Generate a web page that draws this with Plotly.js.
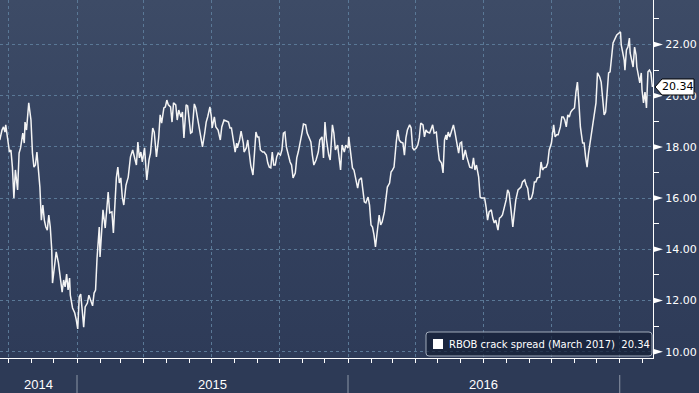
<!DOCTYPE html>
<html><head><meta charset="utf-8">
<script src="https://cdn.plot.ly/plotly-3.0.1.min.js"></script>
<style>
html,body{margin:0;padding:0;background:#2d3a56;}
#chart{width:699px;height:393px;background:linear-gradient(to bottom,#3d4b66 0px,#34425f 180px,#2e3b58 358px,#2d3a56 358px,#2d3a56 393px);}
</style></head><body><div id="chart"></div>
<script>
const dates = [
'2014-09-19','2014-09-22','2014-09-24','2014-09-26','2014-09-27','2014-09-29','2014-10-02','2014-10-04','2014-10-06','2014-10-08',
'2014-10-10','2014-10-13','2014-10-15','2014-10-17','2014-10-20','2014-10-22','2014-10-23','2014-10-25','2014-10-28','2014-10-31',
'2014-11-02','2014-11-04','2014-11-06','2014-11-08','2014-11-10','2014-11-12','2014-11-14','2014-11-16','2014-11-18','2014-11-20',
'2014-11-22','2014-11-24','2014-11-26','2014-11-28','2014-11-29','2014-12-01','2014-12-04','2014-12-07','2014-12-09','2014-12-12',
'2014-12-14','2014-12-16','2014-12-18','2014-12-20','2014-12-22','2014-12-23','2014-12-26','2014-12-29','2014-12-31','2015-01-02',
'2015-01-04','2015-01-06','2015-01-08','2015-01-10','2015-01-12','2015-01-15','2015-01-17','2015-01-19','2015-01-20','2015-01-22',
'2015-01-24','2015-01-26','2015-01-28','2015-01-31','2015-02-01','2015-02-04','2015-02-05','2015-02-08','2015-02-10','2015-02-12',
'2015-02-14','2015-02-17','2015-02-19','2015-02-23','2015-02-25','2015-02-27','2015-03-01','2015-03-03','2015-03-05','2015-03-08',
'2015-03-11','2015-03-14','2015-03-17','2015-03-19','2015-03-22','2015-03-24','2015-03-26','2015-03-28','2015-03-30','2015-04-02',
'2015-04-05','2015-04-08','2015-04-10','2015-04-13','2015-04-15','2015-04-18','2015-04-21','2015-04-23','2015-04-25','2015-04-28',
'2015-04-30','2015-05-02','2015-05-04','2015-05-07','2015-05-09','2015-05-11','2015-05-14','2015-05-16','2015-05-18','2015-05-21',
'2015-05-23','2015-05-25','2015-05-28','2015-05-30','2015-06-01','2015-06-03','2015-06-05','2015-06-08','2015-06-10','2015-06-13',
'2015-06-16','2015-06-19','2015-06-22','2015-06-24','2015-06-26','2015-06-29','2015-07-01','2015-07-02','2015-07-05','2015-07-07',
'2015-07-10','2015-07-13','2015-07-15','2015-07-18','2015-07-21','2015-07-24','2015-07-26','2015-07-28','2015-07-31','2015-08-02',
'2015-08-04','2015-08-05','2015-08-08','2015-08-10','2015-08-13','2015-08-14','2015-08-17','2015-08-19','2015-08-21','2015-08-23',
'2015-08-26','2015-08-28','2015-08-30','2015-09-01','2015-09-03','2015-09-05','2015-09-08','2015-09-10','2015-09-13','2015-09-15',
'2015-09-17','2015-09-19','2015-09-21','2015-09-23','2015-09-25','2015-09-27','2015-09-29','2015-10-02','2015-10-04','2015-10-06',
'2015-10-08','2015-10-10','2015-10-13','2015-10-15','2015-10-17','2015-10-19','2015-10-22','2015-10-24','2015-10-26','2015-10-28',
'2015-10-31','2015-11-02','2015-11-05','2015-11-07','2015-11-09','2015-11-12','2015-11-14','2015-11-16','2015-11-19','2015-11-22',
'2015-11-24','2015-11-27','2015-11-29','2015-12-01','2015-12-03','2015-12-06','2015-12-08','2015-12-11','2015-12-13','2015-12-15',
'2015-12-18','2015-12-20','2015-12-22','2015-12-24','2015-12-27','2015-12-29','2016-01-01','2016-01-02','2016-01-05','2016-01-07',
'2016-01-09','2016-01-11','2016-01-14','2016-01-16','2016-01-19','2016-01-21','2016-01-23','2016-01-25','2016-01-28','2016-01-30',
'2016-02-01','2016-02-03','2016-02-05','2016-02-07','2016-02-10','2016-02-12','2016-02-14','2016-02-16','2016-02-19','2016-02-21',
'2016-02-23','2016-02-26','2016-02-28','2016-03-01','2016-03-03','2016-03-06','2016-03-08','2016-03-10','2016-03-12','2016-03-15',
'2016-03-17','2016-03-19','2016-03-21','2016-03-24','2016-03-26','2016-03-28','2016-03-30','2016-04-02','2016-04-04','2016-04-06',
'2016-04-08','2016-04-11','2016-04-13','2016-04-15','2016-04-17','2016-04-20','2016-04-22','2016-04-24','2016-04-26','2016-04-29',
'2016-05-01','2016-05-03','2016-05-06','2016-05-08','2016-05-10','2016-05-12','2016-05-13','2016-05-15','2016-05-17','2016-05-20',
'2016-05-22','2016-05-24','2016-05-26','2016-05-29','2016-05-31','2016-06-02','2016-06-04','2016-06-07','2016-06-09','2016-06-11',
'2016-06-13','2016-06-16','2016-06-18','2016-06-20','2016-06-22','2016-06-25','2016-06-27','2016-06-29','2016-07-03','2016-07-05',
'2016-07-07','2016-07-09','2016-07-12','2016-07-14','2016-07-16','2016-07-18','2016-07-21','2016-07-23','2016-07-25','2016-07-27',
'2016-07-30','2016-08-01','2016-08-03','2016-08-05','2016-08-08','2016-08-10','2016-08-12','2016-08-14','2016-08-17','2016-08-19',
'2016-08-21','2016-08-23','2016-08-26','2016-08-28','2016-08-30','2016-09-01','2016-09-04','2016-09-06','2016-09-08','2016-09-10',
'2016-09-12','2016-09-15','2016-09-17','2016-09-19','2016-09-21','2016-09-24','2016-09-26','2016-09-28','2016-09-29','2016-10-01',
'2016-10-04','2016-10-06','2016-10-08','2016-10-10','2016-10-13','2016-10-15','2016-10-17','2016-10-19','2016-10-21','2016-10-23',
'2016-10-25','2016-10-27','2016-10-29','2016-11-01','2016-11-03','2016-11-05','2016-11-07','2016-11-09','2016-11-12','2016-11-14',
'2016-11-16','2016-11-18','2016-11-20','2016-11-22','2016-11-25','2016-11-27','2016-11-29','2016-11-30','2016-12-02','2016-12-05',
'2016-12-07','2016-12-09','2016-12-11','2016-12-13','2016-12-15','2016-12-17','2016-12-19','2016-12-21','2016-12-23','2016-12-26',
'2016-12-28','2016-12-31','2017-01-02','2017-01-03','2017-01-05','2017-01-07','2017-01-08','2017-01-10','2017-01-12','2017-01-14',
'2017-01-15','2017-01-17','2017-01-19','2017-01-21','2017-01-23','2017-01-24','2017-01-26','2017-01-28','2017-01-30','2017-01-31',
'2017-02-02','2017-02-04','2017-02-06','2017-02-08','2017-02-10','2017-02-12','2017-02-14'
];
const values = [
18.27,18.66,18.78,18.58,18.86,18.39,17.80,17.88,17.21,16.00,
17.10,16.32,17.76,17.96,18.54,18.15,18.97,18.66,19.72,19.05,
17.76,17.21,17.29,17.80,17.21,16.43,15.14,15.73,15.14,14.87,
14.75,15.34,14.87,13.97,12.68,13.11,13.90,13.47,12.92,12.33,
12.80,12.53,13.03,12.41,12.88,12.21,11.71,11.51,11.24,10.89,
12.14,12.25,11.63,10.96,11.75,11.90,12.21,12.02,11.94,11.79,
12.29,12.41,13.66,14.87,13.70,15.22,15.54,14.83,15.73,16.24,
15.42,15.46,14.64,16.79,17.21,16.59,16.79,16.04,15.73,16.51,
16.82,17.61,17.88,17.68,17.29,18.19,17.57,17.80,17.41,17.96,
16.71,17.49,17.76,18.74,18.58,17.61,18.35,19.25,18.93,19.52,
19.56,19.83,19.64,19.56,18.97,19.72,19.64,19.05,19.44,19.17,
19.36,18.35,19.64,19.60,19.17,18.54,18.58,19.68,19.52,19.05,
18.58,18.00,18.54,18.97,19.17,19.56,19.17,18.74,19.17,18.78,
18.66,18.27,18.78,19.05,19.01,18.97,18.74,18.74,18.19,17.80,
18.15,17.96,18.27,18.62,18.15,17.80,17.96,18.27,17.76,17.29,
16.90,17.88,18.58,18.39,18.39,17.88,17.80,17.80,17.68,17.37,
17.21,17.18,17.80,17.29,17.29,17.61,17.76,17.68,17.88,18.54,
18.58,18.00,17.61,17.41,17.29,16.79,16.98,17.57,17.80,18.07,
18.54,18.89,18.86,18.54,18.39,18.19,17.68,17.29,17.49,17.80,
18.27,18.39,17.57,18.97,18.27,17.68,17.49,18.86,18.54,17.88,
18.07,17.68,17.10,18.07,17.80,18.07,17.96,18.39,17.68,17.18,
17.10,16.79,16.39,16.71,16.79,16.32,15.85,15.81,16.04,15.73,
14.95,14.87,14.56,14.09,14.75,15.34,14.95,15.07,15.46,16.04,
16.43,16.59,17.02,17.10,17.21,18.19,18.66,18.27,18.19,18.15,
17.68,18.35,18.66,18.86,18.74,17.96,17.88,17.96,18.07,18.35,
18.93,18.86,18.39,18.66,18.58,18.54,18.70,18.86,18.54,18.58,
17.96,17.49,17.37,16.98,18.27,18.47,18.27,18.58,18.39,18.66,
18.86,18.58,18.19,17.76,18.15,18.19,17.49,17.88,17.61,17.37,
17.21,17.18,17.57,17.10,17.29,16.82,16.04,16.00,16.00,15.65,
15.14,15.46,15.54,15.22,15.03,15.14,14.75,15.22,15.26,15.34,
15.65,15.93,16.32,16.20,15.42,14.87,15.42,15.93,16.32,16.39,
16.43,16.63,16.71,16.51,16.39,15.93,16.00,16.20,16.63,16.63,
16.79,16.82,17.41,17.10,17.18,17.21,17.37,17.88,17.96,18.15,
18.86,18.39,18.47,18.47,18.78,19.17,19.17,19.05,18.78,19.25,
19.17,19.36,19.44,19.52,20.14,20.53,19.72,18.78,18.15,18.15,
17.61,17.21,17.76,18.15,18.66,18.97,19.36,19.72,20.89,20.73,
20.53,19.83,19.25,19.36,20.03,20.89,20.93,21.51,22.06,22.25,
22.37,22.45,22.49,21.98,21.67,21.39,21.00,21.79,21.90,22.25,
21.67,21.39,21.12,21.90,21.59,21.12,20.81,20.50,20.89,20.22,
19.72,20.14,19.52,20.93,21.00,20.89,20.34
];
const seriesName = 'RBOB crack spread (March 2017)';
const yTicks = [10, 12, 14, 16, 18, 20, 22];
const years = ['2014', '2015', '2016', '2017'];
const xRange = ['2014-09-19 07:00', '2017-02-14 19:00'];
const yRange = [9.754, 23.738];

const W = 699, H = 393, mR = 46, mB = 35;
const plotW = W - mR, plotH = H - mB;
const yFrac = v => (v - yRange[0]) / (yRange[1] - yRange[0]);
const lastVal = values[values.length - 1];
const fmt = v => v.toFixed(2);
const t0 = new Date(xRange[0].replace(' ', 'T') + 'Z').getTime();
const t1 = new Date(xRange[1].replace(' ', 'T') + 'Z').getTime();

const shapes = [];
const annotations = [];

// major y ticks as small triangles
yTicks.forEach(v => {
  shapes.push({type:'path', xref:'paper', yref:'paper', xsizemode:'pixel', ysizemode:'pixel',
    xanchor:1, yanchor:yFrac(v), path:'M 0 -3 L 10 0 L 0 3 Z', fillcolor:'#ffffff', line:{width:0}, layer:'above'});
});

// year labels and separators
years.forEach(y => {
  const s = new Date(y + '-01-01T00:00:00Z').getTime();
  const e = new Date((+y + 1) + '-01-01T00:00:00Z').getTime();
  if (s > t0 && s < t1) {
    shapes.push({type:'line', xref:'x', yref:'paper', x0:y + '-01-01', x1:y + '-01-01',
      y0:-(375 - plotH) / plotH, y1:-(H - plotH) / plotH, line:{color:'#8c96a6', width:1}});
  }
  const a = Math.max(s, t0), b = Math.min(e, t1);
  if (b - a > 60 * 86400000) {
    annotations.push({xref:'x', yref:'paper', x:new Date((a + b) / 2).toISOString().slice(0, 10),
      y:-(384 - plotH) / plotH, yanchor:'middle', xanchor:'center', showarrow:false, text:y,
      font:{family:'Liberation Sans', size:13, color:'#ffffff'}});
  }
});

// last value tag
shapes.push({type:'path', xref:'paper', yref:'paper', xsizemode:'pixel', ysizemode:'pixel',
  xanchor:1, yanchor:yFrac(lastVal), path:'M 2 0 L 9 8 L 41 8 L 41 -8 L 9 -8 Z',
  fillcolor:'#ffffff', line:{color:'#000000', width:1}, layer:'above'});
annotations.push({xref:'paper', yref:'paper', x:1, xshift:25, y:yFrac(lastVal), xanchor:'center', yanchor:'middle',
  showarrow:false, text:fmt(lastVal), font:{family:'DejaVu Sans', size:11, color:'#000000'}});

// legend box
shapes.push({type:'path', xref:'paper', yref:'paper', xsizemode:'pixel', ysizemode:'pixel', xanchor:1, yanchor:0,
  path:'M -224 2 L -4 2 Q -1 2 -1 5 L -1 23 Q -1 26 -4 26 L -224 26 Q -227 26 -227 23 L -227 5 Q -227 2 -224 2 Z',
  fillcolor:'rgba(20,30,52,0.72)', line:{color:'#a0aaba', width:1}, layer:'above'});
shapes.push({type:'rect', xref:'paper', yref:'paper', xsizemode:'pixel', ysizemode:'pixel', xanchor:1, yanchor:0,
  x0:-220, x1:-210, y0:9, y1:19, fillcolor:'#ffffff', line:{width:0}, layer:'above'});
annotations.push({xref:'paper', yref:'paper', x:1, xshift:-206, y:0, yshift:14, xanchor:'left', yanchor:'middle',
  showarrow:false, text:seriesName + '\u00a0\u00a0' + fmt(lastVal), font:{family:'DejaVu Sans', size:10, color:'#ffffff'}});

const trace = {x:dates, y:values, type:'scatter', mode:'lines', name:seriesName,
  line:{color:'#f4f4f4', width:1.5}, hoverinfo:'skip'};

const gridC = '#5a7896';
const layout = {
  width:W, height:H, margin:{l:0, r:mR, t:0, b:mB, pad:0},
  paper_bgcolor:'rgba(0,0,0,0)', plot_bgcolor:'rgba(0,0,0,0)', showlegend:false,
  xaxis:{type:'date', range:xRange, showgrid:true, gridcolor:gridC, griddash:'dot', gridwidth:1,
    dtick:'M3', tick0:'2015-01-01', ticks:'outside', ticklen:4, tickcolor:'#ffffff', tickwidth:1,
    showticklabels:false, showline:true, linecolor:'#ffffff', linewidth:1, zeroline:false, fixedrange:true,
    minor:{dtick:'M1', tick0:'2015-01-01', ticks:'outside', ticklen:4, tickcolor:'#ffffff', tickwidth:1, showgrid:false}},
  yaxis:{side:'right', range:yRange, tickmode:'array', tickvals:yTicks, ticktext:yTicks.map(fmt),
    showgrid:true, gridcolor:gridC, griddash:'dot', gridwidth:1,
    ticks:'outside', ticklen:9, tickcolor:'rgba(0,0,0,0)', showline:true, linecolor:'#ffffff', linewidth:1,
    zeroline:false, fixedrange:true, tickfont:{family:'DejaVu Sans', size:11, color:'#ffffff'},
    minor:{dtick:1, tick0:10, ticks:'outside', ticklen:5, tickcolor:'#ffffff', tickwidth:1, showgrid:false}},
  shapes:shapes, annotations:annotations
};
Plotly.newPlot('chart', [trace], layout, {staticPlot:true, displayModeBar:false});
</script></body></html>
